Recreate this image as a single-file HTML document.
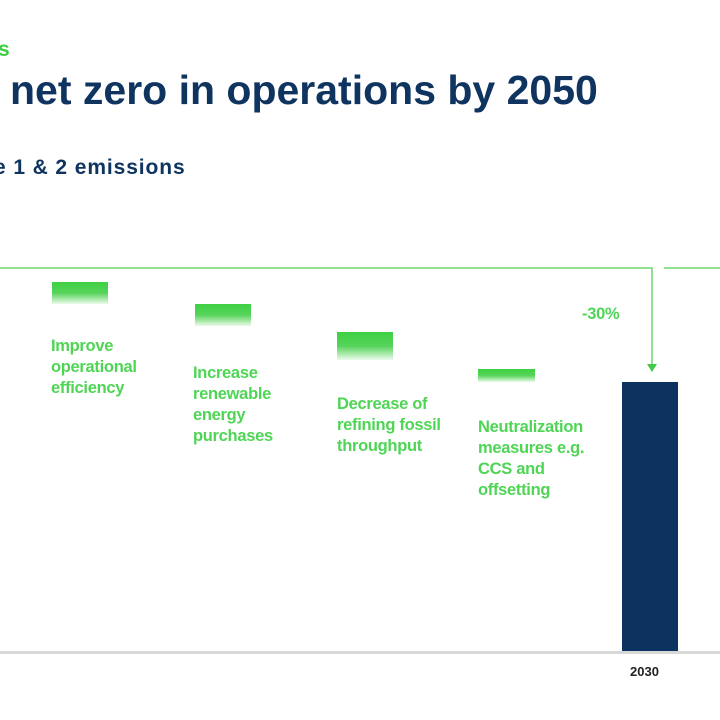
<!DOCTYPE html>
<html><head><style>
body{margin:0;width:720px;height:720px;background:#fff;position:relative;overflow:hidden;font-family:"Liberation Sans",sans-serif}
.a{position:absolute}
.g{color:#4fd555;font-size:16.5px;line-height:21px;font-weight:bold;letter-spacing:-0.3px}
.bar{position:absolute;background:linear-gradient(#3fd043 0%,#56d45a 50%,rgba(120,220,120,0.15) 100%)}
</style></head><body>
<div class="a" style="left:-2px;top:38px;color:#3ccf44;font-weight:bold;font-size:21px">s</div>
<div class="a" style="left:10px;top:67px;color:#0f3460;font-weight:bold;font-size:41px;white-space:nowrap">net zero in operations by 2050</div>
<div class="a" style="left:-6px;top:156px;color:#0f3460;font-weight:bold;font-size:21px;white-space:nowrap;letter-spacing:0.9px">e 1 &amp; 2 emissions</div>
<div class="a" style="left:0;top:267px;width:652px;height:2px;background:#8fe08f"></div>
<div class="a" style="left:651px;top:267px;width:2px;height:100px;background:#8fe08f"></div>
<div class="a" style="left:647px;top:364px;width:0;height:0;border-left:5px solid transparent;border-right:5px solid transparent;border-top:8px solid #44c94a"></div>
<div class="a" style="left:664px;top:267px;width:56px;height:2px;background:#8fe08f"></div>
<div class="bar" style="left:52px;top:282px;width:56px;height:22px"></div>
<div class="bar" style="left:195px;top:304px;width:56px;height:22px"></div>
<div class="bar" style="left:337px;top:332px;width:56px;height:28px"></div>
<div class="bar" style="left:478px;top:369px;width:57px;height:13px"></div>
<div class="a g" style="left:582px;top:304px">-30%</div>
<div class="a g" style="left:51px;top:336px">Improve<br>operational<br>efficiency</div>
<div class="a g" style="left:193px;top:363px">Increase<br>renewable<br>energy<br>purchases</div>
<div class="a g" style="left:337px;top:394px">Decrease of<br>refining fossil<br>throughput</div>
<div class="a g" style="left:478px;top:417px">Neutralization<br>measures e.g.<br>CCS and<br>offsetting</div>
<div class="a" style="left:622px;top:382px;width:56px;height:270px;background:#0c3260"></div>
<div class="a" style="left:0;top:651px;width:720px;height:3px;background:#d8d8d8"></div>
<div class="a" style="left:630px;top:664px;font-size:13px;font-weight:bold;color:#222">2030</div>
</body></html>
